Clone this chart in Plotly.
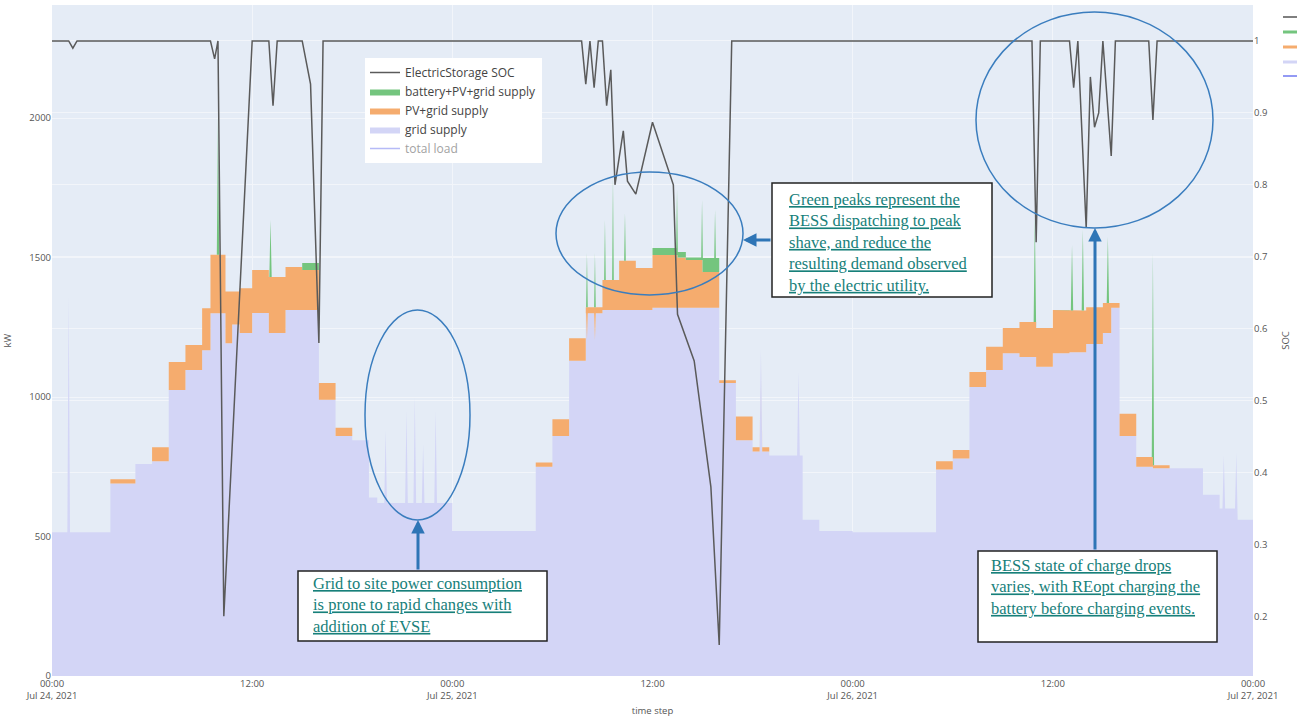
import pandas as pd
import plotly.graph_objects as go

start = pd.Timestamp("2021-07-24 00:00")
end = pd.Timestamp("2021-07-27 00:00")

# (hours since 2021-07-24 00:00, kW) vertices
grid_supply_pts = [
    (0, 515), (0.92, 515), (1.0, 1360), (1.08, 515), (3.5, 515), (3.5, 690), (5, 690), (5, 760),
    (6, 760), (6, 770), (7, 770), (7, 1025), (8, 1025), (8, 1097), (9, 1097), (9, 1168),
    (9.5, 1168), (9.5, 1300), (10.4, 1300), (10.4, 1193), (10.8, 1193), (10.8, 1260),
    (11.25, 1260), (11.25, 1229), (12, 1229), (12, 1301), (13, 1301), (13, 1229), (14, 1229),
    (14, 1312), (16, 1312), (16, 990), (17, 990), (17, 860), (18, 860), (18, 845), (19, 845),
    (19, 640), (19.5, 640), (19.5, 620), (19.92, 620), (20.0, 880), (20.08, 620), (21.17, 620),
    (21.25, 950), (21.33, 620), (21.67, 620), (21.75, 1000), (21.83, 620), (22.17, 620),
    (22.25, 830), (22.33, 620), (22.92, 620), (23.0, 950), (23.08, 620), (24, 620), (24, 520),
    (29, 520), (29, 750), (30, 750), (30, 860), (31, 860), (31, 1130), (32, 1130), (32, 1300),
    (32.02, 1300), (32.07, 1204), (32.12, 1300), (32.5, 1300), (32.55, 1204), (32.6, 1300),
    (33, 1300), (33, 1312), (36, 1312), (36, 1320), (40, 1320), (40, 1050), (41, 1050),
    (41, 845), (42, 845), (42, 805), (42.42, 805), (42.5, 1170), (42.58, 805), (43, 805),
    (43, 790), (44.67, 790), (44.75, 1090), (44.83, 790), (45, 790), (45, 560), (46, 560),
    (46, 520), (48, 520), (48, 515), (53, 515), (53, 740), (54, 740), (54, 780), (55, 780),
    (55, 1036), (56, 1036), (56, 1097), (57, 1097), (57, 1157), (58, 1157), (58, 1143),
    (59, 1143), (59, 1108), (60, 1108), (60, 1157), (61, 1157), (61, 1160), (62, 1160),
    (62, 1190), (63, 1190), (63, 1229), (63.5, 1229), (63.5, 1320), (64, 1320), (64, 860),
    (65, 860), (65, 750), (66, 750), (66, 745), (69, 745), (69, 650), (70, 650), (70, 600),
    (70.17, 600), (70.25, 790), (70.33, 600), (70.92, 600), (71.0, 800), (71.08, 560), (72, 560),
]

pv_grid_supply_pts = [
    (0, 515), (0.92, 515), (1.0, 1360), (1.08, 515), (3.5, 515), (3.5, 705), (5, 705), (5, 760),
    (6, 760), (6, 820), (7, 820), (7, 1125), (8, 1125), (8, 1186), (9, 1186), (9, 1318),
    (9.5, 1318), (9.5, 1510), (10.4, 1510), (10.4, 1378), (11.25, 1378), (11.25, 1390),
    (12, 1390), (12, 1455), (13, 1455), (13, 1430), (14, 1430), (14, 1466), (15, 1466),
    (15, 1455), (16, 1455), (16, 1050), (17, 1050), (17, 890), (18, 890), (18, 845), (19, 845),
    (19, 640), (19.5, 640), (19.5, 620), (19.92, 620), (20.0, 880), (20.08, 620), (21.17, 620),
    (21.25, 950), (21.33, 620), (21.67, 620), (21.75, 1000), (21.83, 620), (22.17, 620),
    (22.25, 830), (22.33, 620), (22.92, 620), (23.0, 950), (23.08, 620), (24, 620), (24, 520),
    (29, 520), (29, 765), (30, 765), (30, 920), (31, 920), (31, 1211), (32, 1211), (32, 1322),
    (33, 1322), (33, 1419), (34, 1419), (34, 1488), (35, 1488), (35, 1462), (36, 1462),
    (36, 1509), (37.5, 1509), (37.5, 1500), (38, 1500), (38, 1491), (39, 1491), (39, 1448),
    (40, 1448), (40, 1060), (41, 1060), (41, 930), (42, 930), (42, 820), (42.42, 820),
    (42.5, 1170), (42.58, 820), (43, 820), (43, 790), (44.67, 790), (44.75, 1090), (44.83, 790),
    (45, 790), (45, 560), (46, 560), (46, 520), (48, 520), (48, 515), (53, 515), (53, 770),
    (54, 770), (54, 810), (55, 810), (55, 1090), (56, 1090), (56, 1180), (57, 1180), (57, 1247),
    (58, 1247), (58, 1269), (59, 1269), (59, 1247), (60, 1247), (60, 1312), (61, 1312),
    (61, 1310), (62, 1310), (62, 1322), (63, 1322), (63, 1337), (64, 1337), (64, 940),
    (65, 940), (65, 785), (66, 785), (66, 755), (67, 755), (67, 745), (69, 745), (69, 650),
    (70, 650), (70, 600), (70.17, 600), (70.25, 790), (70.33, 600), (70.92, 600), (71.0, 800),
    (71.08, 560), (72, 560),
]

battery_pv_grid_supply_pts = [
    (0, 515), (0.92, 515), (1.0, 1360), (1.08, 515), (3.5, 515), (3.5, 705), (5, 705), (5, 760),
    (6, 760), (6, 820), (7, 820), (7, 1125), (8, 1125), (8, 1186), (9, 1186), (9, 1318),
    (9.5, 1318), (9.5, 1510), (9.88, 1510), (9.95, 2003), (10.02, 1510), (10.4, 1510),
    (10.4, 1378), (11.25, 1378), (11.25, 1390), (12, 1390), (12, 1455), (13, 1455), (13, 1430),
    (13.03, 1430), (13.1, 1634), (13.17, 1430), (14, 1430), (14, 1466), (15, 1466), (15, 1480),
    (16, 1480), (16, 1050), (17, 1050), (17, 890), (18, 890), (18, 845), (19, 845), (19, 640),
    (19.5, 640), (19.5, 620), (19.92, 620), (20.0, 880), (20.08, 620), (21.17, 620),
    (21.25, 950), (21.33, 620), (21.67, 620), (21.75, 1000), (21.83, 620), (22.17, 620),
    (22.25, 830), (22.33, 620), (22.92, 620), (23.0, 950), (23.08, 620), (24, 620), (24, 520),
    (29, 520), (29, 765), (30, 765), (30, 920), (31, 920), (31, 1211), (32, 1211), (32, 1322),
    (32.02, 1322), (32.07, 1516), (32.12, 1322), (32.5, 1322), (32.55, 1516), (32.6, 1322),
    (33, 1322), (33, 1419), (33.1, 1419), (33.15, 1634), (33.2, 1419), (33.58, 1419),
    (33.63, 1788), (33.68, 1419), (34, 1419), (34, 1488), (34.3, 1488), (34.35, 1659),
    (34.4, 1488), (35, 1488), (35, 1462), (36, 1462), (36, 1534), (37.42, 1534), (37.47, 1742),
    (37.52, 1520), (38, 1520), (38, 1500), (38.92, 1500), (38.97, 1706), (39.02, 1498),
    (39.7, 1498), (39.75, 1670), (39.8, 1498), (40, 1498), (40, 1060), (41, 1060), (41, 930),
    (42, 930), (42, 820), (42.42, 820), (42.5, 1170), (42.58, 820), (43, 820), (43, 790),
    (44.67, 790), (44.75, 1090), (44.83, 790), (45, 790), (45, 560), (46, 560), (46, 520),
    (48, 520), (48, 515), (53, 515), (53, 770), (54, 770), (54, 810), (55, 810), (55, 1090),
    (56, 1090), (56, 1180), (57, 1180), (57, 1247), (58, 1247), (58, 1269), (58.85, 1269),
    (58.92, 1645), (58.99, 1269), (59, 1269), (59, 1247), (60, 1247), (60, 1312), (61, 1312),
    (61, 1310), (61.08, 1310), (61.15, 1545), (61.22, 1310), (61.73, 1310), (61.8, 1600),
    (61.87, 1310), (62, 1310), (62, 1322), (63, 1322), (63, 1337), (63.23, 1337), (63.3, 1574),
    (63.37, 1337), (64, 1337), (64, 940), (65, 940), (65, 785), (65.93, 785), (66.0, 1516),
    (66.07, 755), (67, 755), (67, 745), (69, 745), (69, 650), (70, 650), (70, 600),
    (70.17, 600), (70.25, 790), (70.33, 600), (70.92, 600), (71.0, 800), (71.08, 560), (72, 560),
]

# ElectricStorage SOC (hours since start, fraction)
soc_pts = [
    (0, 1), (1.0, 1), (1.25, 0.99), (1.5, 1), (9.5, 1), (9.75, 0.975), (9.95, 1.0), (10.3, 0.2),
    (12.0, 1.0), (13.0, 1), (13.25, 0.91), (13.5, 1), (15.0, 1), (15.5, 0.94), (16.0, 0.58),
    (16.25, 1.0), (31.75, 1), (32.0, 0.94), (32.25, 1.0), (32.5, 0.935), (32.75, 1.0),
    (33.0, 1.0), (33.25, 0.91), (33.5, 0.96), (33.75, 0.80), (34.25, 0.875), (34.5, 0.805),
    (35.0, 0.787), (36.0, 0.887), (37.25, 0.80), (37.5, 0.62), (38.5, 0.555), (39.5, 0.38),
    (40.0, 0.16), (40.75, 1.0), (58.75, 1), (59.0, 0.72), (59.25, 1.0), (61.0, 1),
    (61.25, 0.935), (61.5, 1), (62.0, 0.74), (62.25, 0.95), (62.5, 0.88), (62.75, 0.9),
    (63.0, 1.0), (63.5, 0.84), (63.75, 1.0), (65.75, 1), (66.0, 0.89), (66.25, 1.0), (72.0, 1),
]


def xs(pts):
    return [start + pd.Timedelta(hours=h) for h, _ in pts]


def ys(pts):
    return [v for _, v in pts]


fig = go.Figure()
fig.add_trace(go.Scatter(x=xs(grid_supply_pts), y=ys(grid_supply_pts), name="grid supply",
                         mode="lines", line=dict(color="#D3D5F6", width=0), fill="tozeroy",
                         fillcolor="#D3D5F6", legendrank=4))
fig.add_trace(go.Scatter(x=xs(pv_grid_supply_pts), y=ys(pv_grid_supply_pts), name="PV+grid supply",
                         mode="lines", line=dict(color="#F5AC6E", width=0), fill="tonexty",
                         fillcolor="#F5AC6E", legendrank=3))
fig.add_trace(go.Scatter(x=xs(battery_pv_grid_supply_pts), y=ys(battery_pv_grid_supply_pts),
                         name="battery+PV+grid supply", mode="lines",
                         line=dict(color="#74C57E", width=0), fill="tonexty",
                         fillcolor="#74C57E", legendrank=2))
fig.add_trace(go.Scatter(x=xs(battery_pv_grid_supply_pts), y=ys(battery_pv_grid_supply_pts),
                         name="total load", mode="lines", line=dict(color="#6F78F0", width=1.5),
                         visible="legendonly", legendrank=5))
fig.add_trace(go.Scatter(x=xs(soc_pts), y=ys(soc_pts), name="ElectricStorage SOC", mode="lines",
                         line=dict(color="#5A5A5A", width=1.5), yaxis="y2", legendrank=1))

W0, W1, H0, H1 = 52, 1253, 5, 676


def px(x):
    return (x - W0) / (W1 - W0)


def py(y):
    return (H1 - y) / (H1 - H0)


blue = "#3A7DBE"
shapes = []
for (x0, y0, x1, y1) in [(365, 310, 470, 520), (556, 172, 743, 295), (976, 12, 1213, 228)]:
    shapes.append(dict(type="circle", xref="paper", yref="paper", x0=px(x0), x1=px(x1),
                       y0=py(y1), y1=py(y0), line=dict(color=blue, width=1.5)))
for (x0, y0, x1, y1) in [(298, 571, 547, 641), (772, 183, 992, 297), (978, 551, 1217, 642)]:
    shapes.append(dict(type="rect", xref="paper", yref="paper", x0=px(x0), x1=px(x1),
                       y0=py(y1), y1=py(y0), fillcolor="white",
                       line=dict(color="#222222", width=1.5)))
# legend cut off at the right edge of the picture
for yy, col, w in [(17, "#555555", 1.5), (32, "#74C57E", 3), (47, "#F5AC6E", 3),
                   (62, "#D3D5F6", 3), (76, "#6F78F0", 1.5)]:
    shapes.append(dict(type="line", xref="paper", yref="paper", x0=px(1283), x1=px(1297),
                       y0=py(yy), y1=py(yy), line=dict(color=col, width=w)))

tfont = dict(family="Liberation Serif, Times New Roman, serif", size=16.5, color="#17807A")
annotations = [
    dict(xref="paper", yref="paper", x=px(311), y=py(572), xanchor="left", yanchor="top",
         align="left", showarrow=False, font=tfont,
         text="<u>Grid to site power consumption</u><br><u>is prone to rapid changes with</u><br><u>addition of EVSE</u>"),
    dict(xref="paper", yref="paper", x=px(787), y=py(188), xanchor="left", yanchor="top",
         align="left", showarrow=False, font=tfont,
         text="<u>Green peaks represent the</u><br><u>BESS dispatching to peak</u><br><u>shave, and reduce the</u><br><u>resulting demand observed</u><br><u>by the electric utility.</u>"),
    dict(xref="paper", yref="paper", x=px(989), y=py(554), xanchor="left", yanchor="top",
         align="left", showarrow=False, font=tfont,
         text="<u>BESS state of charge drops</u><br><u>varies, with REopt charging the</u><br><u>battery before charging events.</u>"),
]
for (hx, hy, tx, ty) in [(418, 520, 418, 571), (743, 240, 772, 240), (1095, 228, 1095, 551)]:
    annotations.append(dict(xref="paper", yref="paper", x=px(hx), y=py(hy), ax=tx - hx, ay=ty - hy,
                            axref="pixel", ayref="pixel", text="", showarrow=True,
                            arrowhead=2, arrowsize=0.9, arrowwidth=3, arrowcolor="#2E75B6",
                            standoff=0))

axfont = dict(size=9.5, color="#555555")
fig.update_layout(
    width=1300, height=717,
    margin=dict(l=W0, r=1300 - W1, t=H0, b=717 - H1),
    template="plotly",
    plot_bgcolor="#E5ECF6",
    paper_bgcolor="white",
    font=dict(family="Open Sans, Verdana, Arial", size=10, color="#555555"),
    xaxis=dict(range=[start, end], dtick=12 * 3600 * 1000, tick0=start, tickfont=axfont,
               title=dict(text="time step", font=axfont, standoff=8), gridcolor="#F2F5FA",
               automargin=False),
    yaxis=dict(range=[0, 2405], dtick=500, tickfont=axfont, automargin=False,
               title=dict(text="kW", font=axfont), gridcolor="#F2F5FA"),
    yaxis2=dict(overlaying="y", side="right", range=[0.117, 1.05], dtick=0.1, automargin=False,
                tickfont=axfont, title=dict(text="SOC", font=axfont), gridcolor="#F2F5FA"),
    legend=dict(x=px(365), y=py(58), xanchor="left", yanchor="top", bgcolor="white",
                traceorder="normal", font=dict(size=12, color="#444444")),
    shapes=shapes,
    annotations=annotations,
)

fig.write_html("out.html")
